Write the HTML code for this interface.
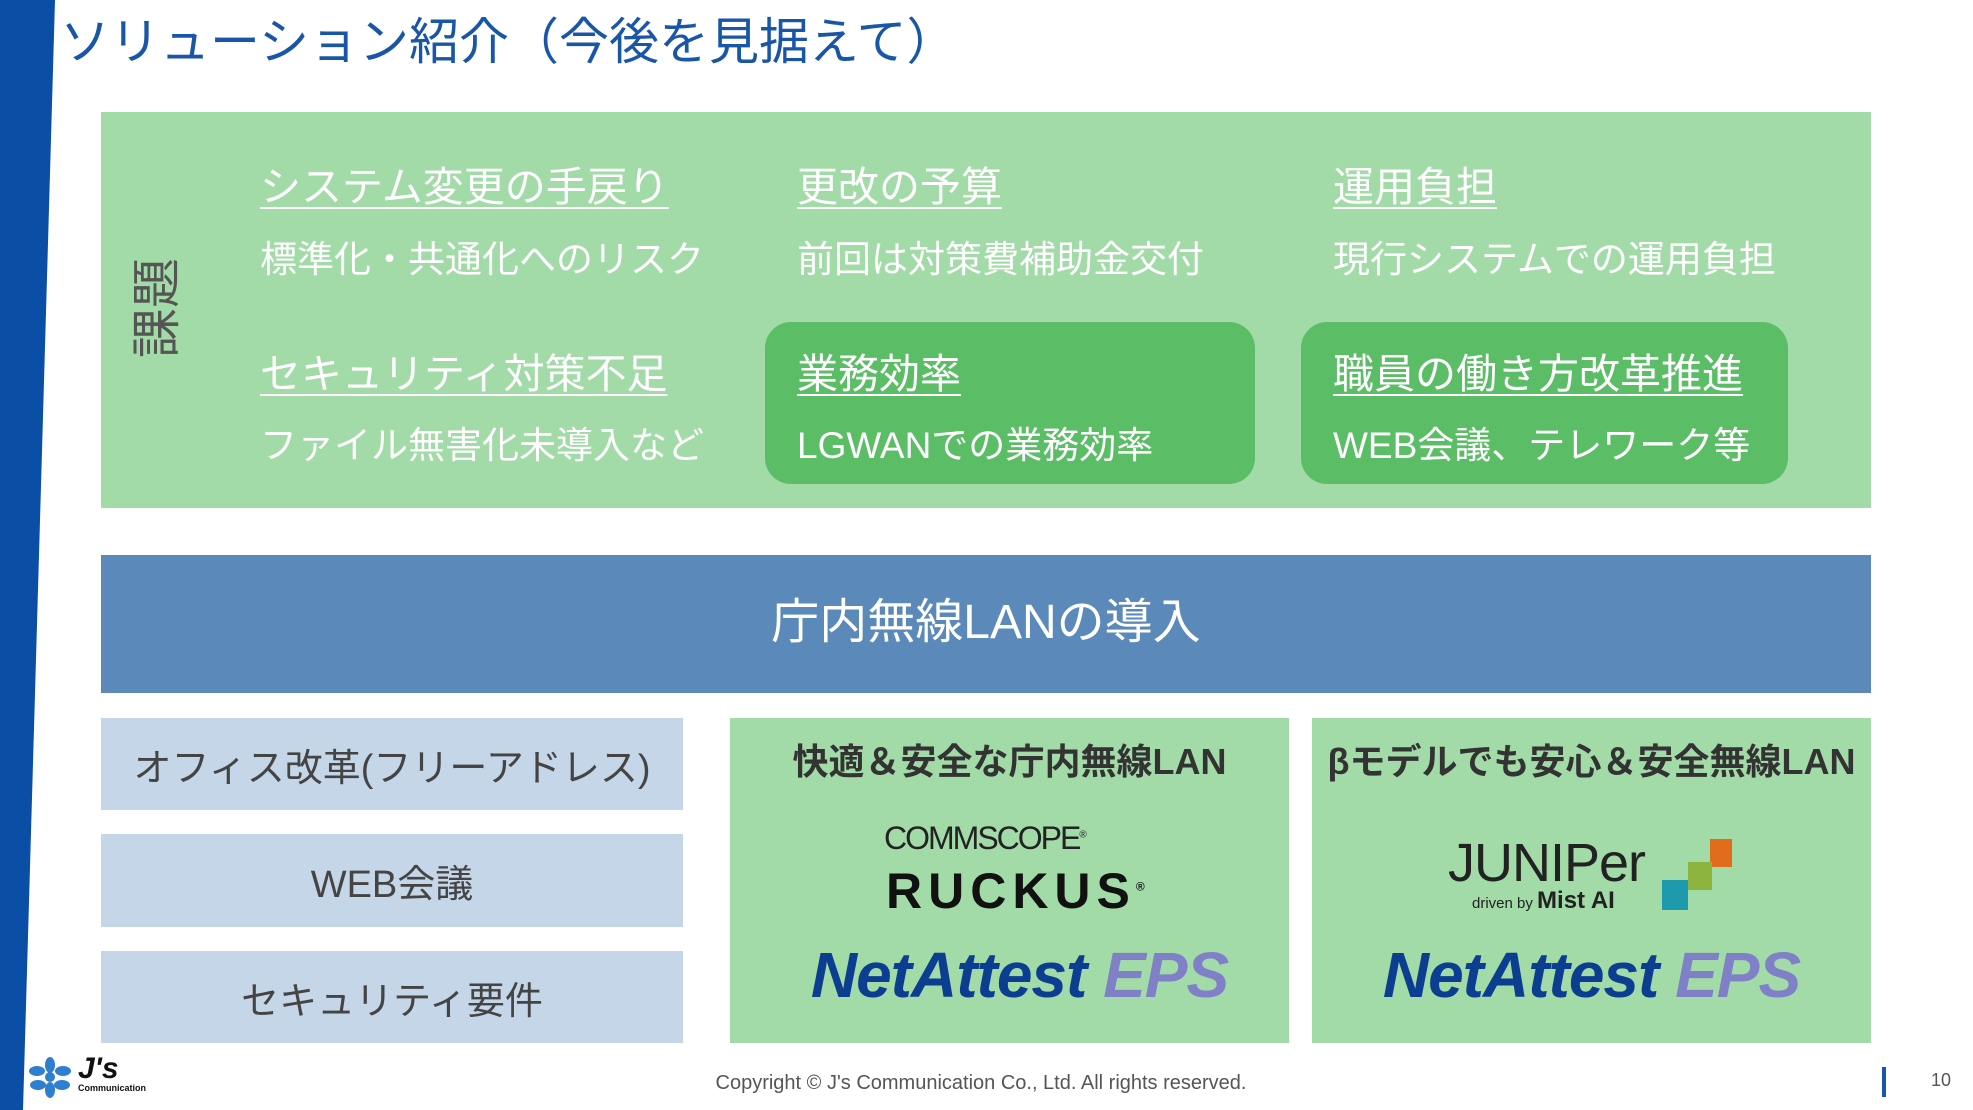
<!DOCTYPE html>
<html><head><meta charset="utf-8"><style>
body{margin:0;width:1973px;height:1110px;position:relative;overflow:hidden;background:#fff;font-family:"Liberation Sans","Noto Sans CJK JP",sans-serif}
.a{position:absolute;white-space:nowrap}
.h{color:#fff;font-size:41px;text-decoration:underline;text-decoration-thickness:2px;text-underline-offset:6px;line-height:1}
.s{color:#fff;font-size:37px;line-height:1}
.lb{position:absolute;left:101px;width:582px;background:#c5d6e8;color:#444;font-size:38px;display:flex;align-items:center;justify-content:center}
.gb{position:absolute;top:718px;width:559px;height:325px;background:#a2dba8}
.ne{position:absolute;top:943px;width:559px;text-align:center;font-size:64px;font-weight:bold;font-style:italic;color:#0b3d91;letter-spacing:-1px;line-height:1}
.ne span{color:#7f80c8}
.gh{position:absolute;top:740px;width:559px;text-align:center;font-size:36px;font-weight:bold;color:#333;line-height:1.2}
</style></head><body>
<svg class="a" style="left:0;top:0" width="60" height="1110"><polygon points="0,0 55,0 23,1110 0,1110" fill="#0a4ea6"/></svg>
<div class="a" style="left:60px;top:12px;font-size:50px;color:#1a56a8;line-height:1.2">ソリューション紹介（今後を見据えて）</div>

<div class="a" style="left:101px;top:112px;width:1770px;height:396px;background:#a2dba8"></div>
<div class="a" style="left:765px;top:322px;width:490px;height:162px;background:#5cbd67;border-radius:26px"></div>
<div class="a" style="left:1301px;top:322px;width:487px;height:162px;background:#5cbd67;border-radius:26px"></div>
<div class="a" style="left:107px;top:283px;width:100px;height:50px;font-size:50px;color:#555;line-height:1;text-align:center;transform:rotate(-90deg)">課題</div>

<div class="a h" style="left:260px;top:167px">システム変更の手戻り</div>
<div class="a s" style="left:260px;top:241px">標準化・共通化へのリスク</div>
<div class="a h" style="left:797px;top:167px">更改の予算</div>
<div class="a s" style="left:797px;top:241px">前回は対策費補助金交付</div>
<div class="a h" style="left:1333px;top:167px">運用負担</div>
<div class="a s" style="left:1333px;top:241px">現行システムでの運用負担</div>
<div class="a h" style="left:260px;top:354px">セキュリティ対策不足</div>
<div class="a s" style="left:260px;top:427px">ファイル無害化未導入など</div>
<div class="a h" style="left:797px;top:354px">業務効率</div>
<div class="a s" style="left:797px;top:427px">LGWANでの業務効率</div>
<div class="a h" style="left:1333px;top:354px">職員の働き方改革推進</div>
<div class="a s" style="left:1333px;top:427px">WEB会議、テレワーク等</div>

<div class="a" style="left:101px;top:555px;width:1770px;height:124px;padding-bottom:14px;background:#5b8aba;color:#fff;font-size:48px;display:flex;align-items:center;justify-content:center">庁内無線LANの導入</div>

<div class="lb" style="top:718px;height:92px">オフィス改革(フリーアドレス)</div>
<div class="lb" style="top:834px;height:93px">WEB会議</div>
<div class="lb" style="top:951px;height:92px">セキュリティ要件</div>

<div class="gb" style="left:730px"></div>
<div class="gb" style="left:1312px"></div>
<div class="gh" style="left:730px">快適＆安全な庁内無線LAN</div>
<div class="gh" style="left:1312px">βモデルでも安心＆安全無線LAN</div>

<div class="a" style="left:884px;top:822px;font-size:32px;color:#222;letter-spacing:-2px;line-height:1">COMMSCOPE<sup style="font-size:10px">®</sup></div>
<div class="a" style="left:886px;top:866px;font-size:50px;font-weight:bold;color:#111;letter-spacing:6px;line-height:1">RUCKUS<sup style="font-size:12px">®</sup></div>
<div class="ne" style="left:740px">NetAttest <span>EPS</span></div>

<div class="a" style="left:1448px;top:836px;font-size:54px;color:#222;letter-spacing:-1px;line-height:1">JUNIPer</div>
<div class="a" style="left:1472px;top:889px;font-size:15px;color:#222;line-height:1">driven by <b style="font-size:24px">Mist AI</b></div>
<div class="a" style="left:1710px;top:839px;width:22px;height:28px;background:#e06c1c"></div>
<div class="a" style="left:1688px;top:862px;width:24px;height:28px;background:#8db43e"></div>
<div class="a" style="left:1662px;top:880px;width:26px;height:30px;background:#1e9aad"></div>
<div class="ne" style="left:1312px">NetAttest <span>EPS</span></div>

<svg class="a" style="left:28px;top:1057px" width="50" height="42"><g fill="#2f7fd0"><circle cx="22" cy="20" r="5"/><ellipse cx="22" cy="8" rx="5" ry="8"/><ellipse cx="22" cy="33" rx="5" ry="8"/><ellipse cx="9" cy="14" rx="8" ry="5"/><ellipse cx="35" cy="14" rx="8" ry="5"/><ellipse cx="10" cy="28" rx="8" ry="5"/><ellipse cx="34" cy="28" rx="8" ry="5"/></g></svg>
<div class="a" style="left:78px;top:1054px;font-size:30px;font-weight:bold;font-style:italic;color:#111;line-height:1">J's</div>
<div class="a" style="left:78px;top:1084px;font-size:9px;font-weight:bold;color:#111;line-height:1">Communication</div>
<div class="a" style="left:0;width:1962px;top:1073px;text-align:center;font-size:20px;color:#555;line-height:1">Copyright © J's Communication Co., Ltd. All rights reserved.</div>
<div class="a" style="left:1882px;top:1067px;width:4px;height:30px;background:#1a56a8"></div>
<div class="a" style="left:1931px;top:1071px;font-size:18px;color:#555;line-height:1">10</div>
</body></html>
